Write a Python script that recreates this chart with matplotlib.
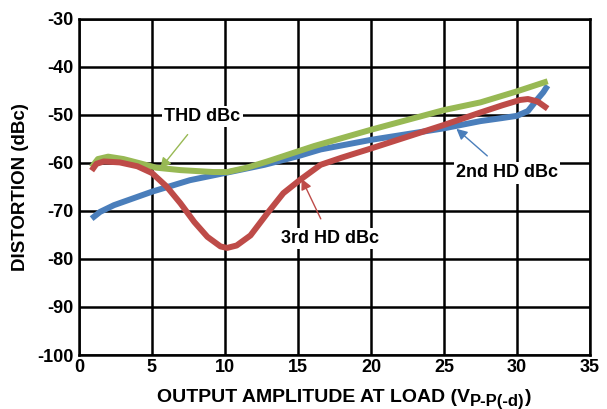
import matplotlib
matplotlib.use("Agg")

import matplotlib.pyplot as plt

# values
thd_x = [0.87, 1.3, 2.0, 3.05, 4.2, 5.3, 6.95, 9.2, 10.15, 11.5, 12.9, 14.3, 16.1, 20.0, 25.0, 27.5, 30.0, 32.1]
thd_y = [-60.9, -59.2, -58.7, -59.2, -60.1, -61.0, -61.5, -61.9, -61.9, -61.0, -59.7, -58.3, -56.5, -53.1, -49.0, -47.4, -45.1, -43.0]

hd2_x = [0.87, 1.45, 2.4, 5.0, 7.6, 10.0, 12.7, 15.0, 16.55, 20.0, 25.0, 27.5, 28.9, 30.0, 30.75, 31.3, 31.8, 32.1]
hd2_y = [-71.6, -70.2, -68.8, -66.0, -63.6, -62.1, -60.4, -58.6, -57.2, -55.2, -52.8, -51.3, -50.7, -50.2, -49.2, -47.1, -45.3, -43.9]

hd3_x = [0.87, 1.2, 1.7, 2.8, 4.0, 5.0, 6.0, 6.95, 7.9, 8.8, 9.7, 10.15, 10.8, 11.75, 12.9, 14.0, 15.2,
         16.55, 18.0, 20.0, 25.0, 27.5, 29.0, 30.2, 30.75, 31.4, 32.1]
hd3_y = [-61.6, -60.2, -59.7, -59.9, -60.7, -62.1, -64.9, -68.4, -72.3, -75.4, -77.4, -77.7, -77.2, -75.1,
         -70.5, -66.3, -63.4, -60.4, -58.9, -57.0, -52.1, -49.5, -48.0, -46.9, -46.7, -47.2, -48.7]

x_ticks = [0, 5, 10, 15, 20, 25, 30, 35]
y_ticks = [-100, -90, -80, -70, -60, -50, -40, -30]

plt.rcParams["font.family"] = ["Liberation Sans", "DejaVu Sans"]
plt.rcParams["font.weight"] = "bold"
plt.rcParams["axes.unicode_minus"] = False

fig = plt.figure(figsize=(6.07, 4.09), dpi=100)
ax = fig.add_axes([0.130, 0.132, 0.842, 0.822])

blue = "#4A7EBB"
red = "#BE4B48"
green = "#98B954"

ax.plot(hd2_x, hd2_y, color=blue, lw=4.3, solid_capstyle="butt", solid_joinstyle="round", zorder=3)
ax.plot(thd_x, thd_y, color=green, lw=4.3, solid_capstyle="butt", solid_joinstyle="round", zorder=4)
ax.plot(hd3_x, hd3_y, color=red, lw=4.3, solid_capstyle="butt", solid_joinstyle="round", zorder=5)

ax.set_xlim(0, 35)
ax.set_ylim(-100, -30)
ax.set_xticks(x_ticks)
ax.set_yticks(y_ticks)
ax.grid(True, color="black", lw=1.8, zorder=1)
ax.set_axisbelow(True)
for s in ax.spines.values():
    s.set_linewidth(1.8)
ax.tick_params(length=0, labelsize=13, pad=3)
ax.tick_params(axis="y", pad=4)
for lbl in ax.get_xticklabels() + ax.get_yticklabels():
    lbl.set_fontweight("bold")

ax.set_ylabel("DISTORTION (dBc)", fontsize=13.5, fontweight="bold", labelpad=6)

# x label with subscript, built from pieces so the hyphens stay hyphens
fig.canvas.draw()
r = fig.canvas.get_renderer()
base_y = 0.018
main = fig.text(0.5, base_y, "OUTPUT AMPLITUDE AT LOAD (V", fontsize=14, fontweight="bold",
                ha="left", va="baseline")
sub = fig.text(0, 0, "P-P(-d)", fontsize=12, fontweight="bold", va="baseline")
close = fig.text(0, 0, ")", fontsize=14, fontweight="bold", va="baseline")
w_main = main.get_window_extent(r).width
w_sub = sub.get_window_extent(r).width
w_close = close.get_window_extent(r).width
total = w_main + w_sub + w_close
x0 = 344 - total / 2
W, H = fig.bbox.width, fig.bbox.height
main.set_x(x0 / W)
sub.set_position(((x0 + w_main) / W, base_y - 4 / H))
close.set_position(((x0 + w_main + w_sub) / W, base_y))

box = dict(facecolor="white", edgecolor="none", pad=1.5)
ax.annotate("THD dBc", xy=(5.57, -61.2), xytext=(8.45, -50.3), fontsize=13, fontweight="bold",
            ha="center", va="center", bbox=box, zorder=6,
            arrowprops=dict(arrowstyle="-|>", color=green, lw=1, mutation_scale=16,
                            shrinkA=7, shrinkB=0))
ax.annotate("2nd HD dBc", xy=(25.85, -52.9), xytext=(29.3, -62.1), fontsize=13, fontweight="bold",
            ha="center", va="center", bbox=box, zorder=6,
            arrowprops=dict(arrowstyle="-|>", color=blue, lw=1, mutation_scale=16,
                            shrinkA=7, shrinkB=0))
ax.annotate("3rd HD dBc", xy=(15.25, -63.3), xytext=(17.2, -75.7), fontsize=13, fontweight="bold",
            ha="center", va="center", bbox=box, zorder=6,
            arrowprops=dict(arrowstyle="-|>", color=red, lw=1, mutation_scale=16,
                            shrinkA=7, shrinkB=0))

fig.savefig("out.png", dpi=100)
